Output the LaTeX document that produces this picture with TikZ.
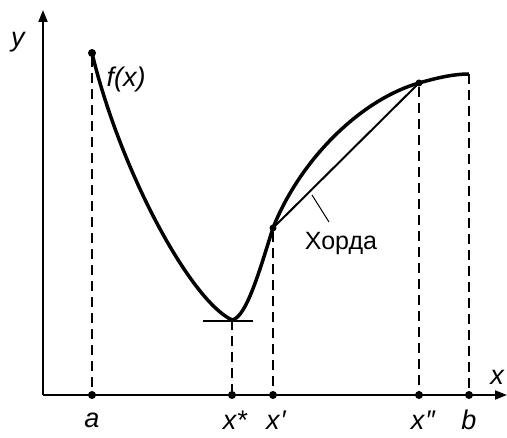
\documentclass[tikz,border=0pt]{standalone}
\usepackage{fontspec}
\setmainfont{Liberation Sans}
\usetikzlibrary{arrows.meta}
\begin{document}
\begin{tikzpicture}[x=1pt,y=-1pt,
  axis/.style={line width=1.8pt,-{Triangle[length=12pt,width=9pt]}},
  curve/.style={line width=3.5pt},
  guide/.style={line width=1.8pt,dash pattern=on 10pt off 6pt},
  dot/.style={circle,fill,inner sep=0pt,minimum size=8pt},
  lbl/.style={font=\fontsize{27}{30}\selectfont\itshape,inner sep=0pt}]
\useasboundingbox (0,0) rectangle (507,438);
% axes
\coordinate (O) at (43,395);
\coordinate (xend) at (507,395);
\coordinate (yend) at (43,10);
\draw[axis] (O) -- (xend);
\draw[axis] (O) -- (yend);
\node[lbl] (ylab) at (18,42) {y};
\node[lbl] (xlab) at (497,377) {x};
% points on x axis
\node[dot] (pa) at (92,395) {};
\node[dot] (ps) at (232,395) {};
\node[dot] (pp) at (273,395) {};
\node[dot] (ppp) at (419,395) {};
\node[dot] (pb) at (469,395) {};
\node[lbl] (la) at (92,420) {a};
\node[lbl] (ls) at (235,420) {x*};
\node[lbl] (lp) at (276,420) {x\kern1pt\char"2032};
\node[lbl] (lpp) at (423,420) {x\kern1pt\char"2033};
\node[lbl] (lb) at (469,420) {b};
% curve points
\node[dot] (A) at (92,53) {};
\coordinate (M) at (232,320);
\node[dot,minimum size=7pt] (P1) at (273,228) {};
\node[dot,minimum size=7pt] (P2) at (419,83) {};
\coordinate (B) at (469,74);
% dashed guides
\draw[guide] (A) -- (pa);
\draw[guide] (M) -- (ps);
\draw[guide] (P1) -- (pp);
\draw[guide] (P2) -- (ppp);
\draw[guide] (B) -- (pb);
% tangent at minimum
\coordinate (t1) at (203,321);
\coordinate (t2) at (253,321);
\draw[line width=1.8pt] (t1) -- (t2);
% function
\draw[curve] (A.center) .. controls (120,170) and (190,300) .. (M)
  .. controls (247,318) and (262,262) .. (P1.center)
  .. controls (300,160) and (360,100) .. (P2.center)
  .. controls (440,77) and (455,74) .. (B);
\node[lbl] (fx) at (126,80) {f(x)};
% chord
\draw[line width=2pt] (P1.center) -- (P2.center);
\coordinate (c1) at (312,195);
\coordinate (c2) at (329,222);
\draw[line width=1pt] (c1) -- (c2);
\node[font=\fontsize{25}{28}\selectfont,inner sep=0pt] (chord) at (341,243) {Хорда};
\end{tikzpicture}
\end{document}
